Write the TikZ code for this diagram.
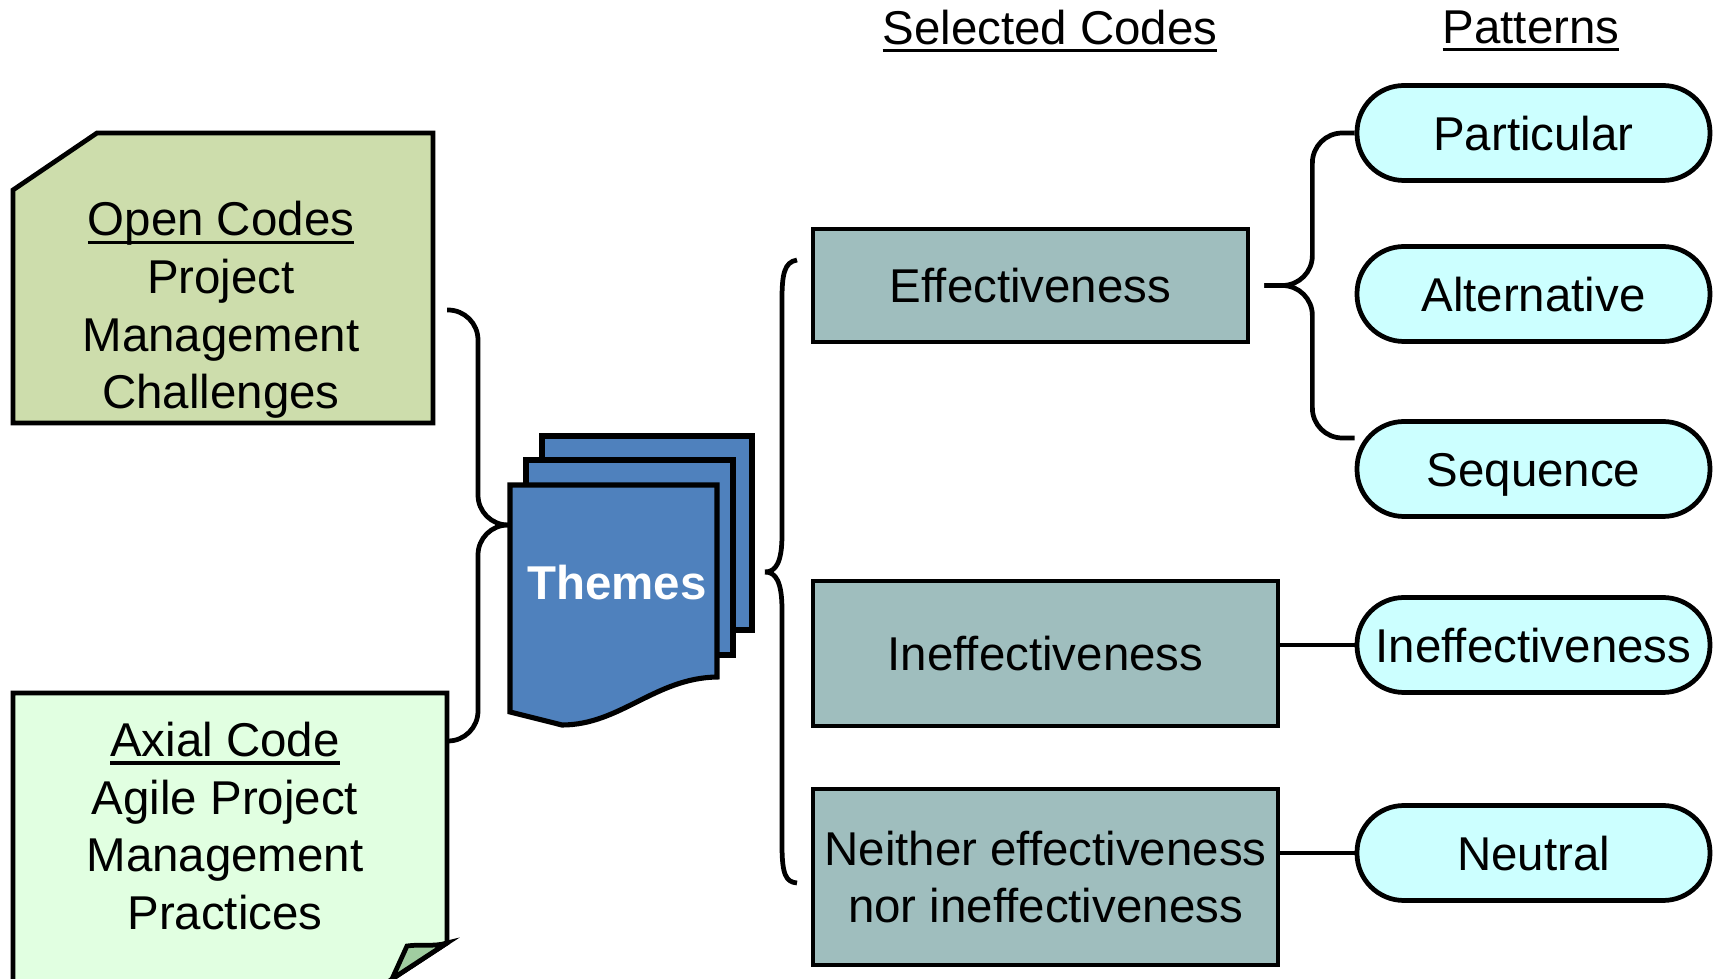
\documentclass[tikz,border=0pt]{standalone}
\usepackage{fontspec}
\setmainfont{Liberation Sans}
\usetikzlibrary{calc,positioning}
\definecolor{opencol}{RGB}{205,221,172}
\definecolor{axcol}{RGB}{225,255,225}
\definecolor{flapcol}{RGB}{160,205,160}
\definecolor{themecol}{RGB}{79,129,189}
\definecolor{selcol}{RGB}{159,190,190}
\definecolor{patcol}{RGB}{204,255,255}
\def\undl#1{\setbox0\hbox{#1}\rlap{\rule[-2.3pt]{\wd0}{0.9pt}}\box0}
\tikzset{
	txt/.style={font=\fontsize{13.5}{16.4}\selectfont, align=center, inner sep=0pt},
	selbox/.style={txt, draw, line width=1.35pt, fill=selcol},
	patbox/.style={txt, draw, line width=1.35pt, fill=patcol, minimum width=3.53cm, minimum height=0.95cm, rounded corners=0.47cm, text height=12.8pt, text depth=2.9pt},
	brace/.style={line width=1.35pt},
}

\begin{document}
\begin{tikzpicture}
			%%%%% START %%%%%
			\useasboundingbox (0, 0) rectangle (17.19, -9.79);
			\clip (0, 0) rectangle (17.19, -9.79);
			
			% code boxes
			\draw[line width=1.35pt, fill=opencol] (0.13, -1.90) -- (0.97, -1.33) -- (4.33, -1.33) -- (4.33, -4.23) -- (0.13, -4.23) -- cycle;
			\node[txt] (open) at (2.21, -3.10) {\undl{Open Codes}\\Project\\Management\\Challenges};
			
			\draw[line width=1.35pt, fill=axcol] (0.13, -10.10) -- (0.13, -6.93) -- (4.47, -6.93) -- (4.47, -9.43) -- (3.45, -10.10) -- cycle;
			\draw[line width=1.35pt, fill=flapcol] (3.92, -9.79) -- (4.07, -9.46) .. controls (4.20, -9.44) and (4.34, -9.47) .. (4.47, -9.43) -- cycle;
			\node[txt] (axial) at (2.25, -8.26) {\undl{Axial Code}\\Agile Project\\Management\\Practices};
			
			% left brace
			\coordinate (opentop) at (4.47, -3.10);
			\coordinate (axbot) at (4.47, -7.41);
			\coordinate (themetip) at (5.08, -5.25);
			\draw[brace, rounded corners=0.3cm] (opentop) -| ($(themetip)+(-0.30, 0)$) -- (themetip);
			\draw[brace, rounded corners=0.3cm] (axbot) -| ($(themetip)+(-0.30, 0)$) -- (themetip);
			
			% theme pages
			\draw[line width=1.45pt, fill=themecol] (5.42, -4.36) rectangle (7.52, -6.30);
			\draw[line width=1.45pt, fill=themecol] (5.26, -4.60) rectangle (7.33, -6.55);
			\draw[line width=1.45pt, fill=themecol] (5.10, -4.85) -- (7.17, -4.85) -- (7.17, -6.77) .. controls (6.55, -6.78) and (6.20, -7.25) .. (5.62, -7.25) -- (5.10, -7.12) -- cycle;
			\node[txt, font=\fontsize{13.5}{16}\selectfont\bfseries, text=white] (themes) at (6.17, -5.83) {Themes};
			
			% headers
			\node[txt] (hsel) at (10.50, -0.31) {\undl{Selected Codes}};
			\node[txt] (hpat) at (15.31, -0.31) {\undl{Patterns}};
			
			% selected codes
			\node[selbox, minimum width=4.35cm, minimum height=1.13cm] (eff) at (10.305, -2.855) {Effectiveness};
			\node[selbox, minimum width=4.65cm, minimum height=1.45cm] (ineff) at (10.455, -6.535) {Ineffectiveness};
			\node[selbox, minimum width=4.65cm, minimum height=1.76cm] (neither) at (10.455, -8.77) {Neither effectiveness\\nor ineffectiveness};
			
			% big brace
			\coordinate (seltop) at (7.97, -2.60);
			\coordinate (seltip) at (7.65, -5.72);
			\coordinate (selbot) at (7.97, -8.83);
			\draw[brace] (seltop) .. controls (7.84, -2.62) and (7.82, -2.75) .. (7.82, -3.00) -- (7.82, -5.35) .. controls (7.82, -5.62) and (7.76, -5.72) .. (seltip);
			\draw[brace] (seltip) .. controls (7.76, -5.72) and (7.82, -5.82) .. (7.82, -6.10) -- (7.82, -8.45) .. controls (7.82, -8.75) and (7.86, -8.82) .. (selbot);
			
			% patterns
			\node[patbox] (part) at (15.335, -1.33) {Particular};
			\node[patbox] (alt) at (15.335, -2.94) {Alternative};
			\node[patbox] (seq) at (15.335, -4.69) {Sequence};
			\node[patbox] (ipat) at (15.335, -6.45) {Ineffectiveness};
			\node[patbox] (neut) at (15.335, -8.53) {Neutral};
			
			% right brace
			\coordinate (efftip) at ($(eff.east)+(0.14, 0)$);
			\coordinate (seqend) at ($(seq.west)+(0, 0.31)$);
			\draw[brace, rounded corners=0.3cm] (part.west) -| ($(efftip)+(0.48, 0)$) -- (efftip);
			\draw[brace, rounded corners=0.3cm] (seqend) -| ($(efftip)+(0.48, 0)$) -- (efftip);
			
			\draw[brace] (ipat.west) -- (ipat.west -| ineff.east);
			\draw[brace] (neut.west) -- (neut.west -| neither.east);
			%%%%% END %%%%%
\end{tikzpicture}
\end{document}
